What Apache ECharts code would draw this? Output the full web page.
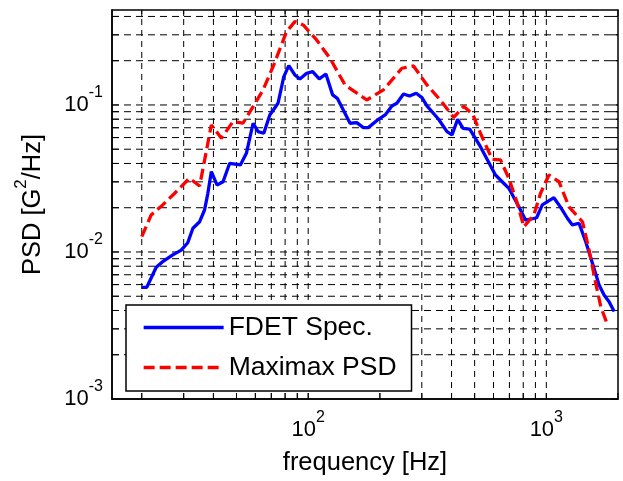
<!DOCTYPE html>
<html>
<head>
<meta charset="utf-8">
<script src="https://cdn.jsdelivr.net/npm/echarts@6/dist/echarts.min.js"></script>
<style>
html,body{margin:0;padding:0;background:#fff;}
#chart{width:623px;height:481px;}
</style>
</head>
<body>
<div id="chart"></div>
<script>
// ---- data ----
const blueName = 'FDET Spec.';
const redName = 'Maximax PSD';
const blueFreq = [20, 21, 23, 24.4, 27, 29.3, 31.2, 32.8, 35, 36.7, 37.9, 39.2, 41.4, 43.9, 46.8, 51.9, 55, 58.7, 61.6, 65.1, 69, 74.7, 79, 82.9, 87.9, 92.3, 98.5, 104.4, 111.3, 118.7, 126.7, 132.5, 149.9, 159.9, 170.5, 178.9, 197.2, 210.5, 224.6, 235.7, 251.3, 266.3, 284.2, 300.4, 315.3, 352.8, 382.8, 401.9, 424.2, 447.1, 476.8, 528.8, 611.5, 652.7, 696, 766.8, 818.1, 858.7, 910.4, 962, 1076, 1149, 1226, 1287, 1372, 1464, 1562, 1666, 1748, 1835, 1927];
const blueVal = [0.00575, 0.00575, 0.00787, 0.00855, 0.00955, 0.0103, 0.01156, 0.01449, 0.01606, 0.0193, 0.02506, 0.0352, 0.02858, 0.03006, 0.0401, 0.0391, 0.0469, 0.0751, 0.0658, 0.0642, 0.0855, 0.1027, 0.1558, 0.1851, 0.160, 0.1503, 0.1643, 0.1684, 0.1503, 0.1625, 0.117, 0.111, 0.0751, 0.0758, 0.0701, 0.0701, 0.0799, 0.0855, 0.0985, 0.1027, 0.1188, 0.1151, 0.1201, 0.1121, 0.0985, 0.0799, 0.0658, 0.0625, 0.0799, 0.0694, 0.0684, 0.052, 0.0334, 0.03006, 0.0271, 0.0203, 0.0165, 0.0167, 0.0171, 0.0209, 0.0234, 0.0201, 0.01696, 0.01527, 0.01568, 0.01175, 0.00838, 0.00596, 0.0051, 0.00459, 0.00393];
const redFreq = [20, 21.9, 24.5, 27.5, 31.7, 35, 39.2, 43.2, 48.3, 53.2, 58.7, 64.6, 71.2, 81.1, 87.9, 95.3, 108.5, 123.4, 142.8, 176.2, 207, 247.4, 276.9, 315.3, 358.7, 408.1, 449.7, 491.6, 528.8, 592.1, 642, 696, 754.8, 804.7, 886.5, 946, 1026, 1130, 1245, 1418, 1512, 1613, 1693, 1807];
const redVal = [0.0127, 0.01785, 0.0209, 0.0251, 0.0317, 0.0281, 0.0731, 0.0594, 0.077, 0.0751, 0.0974, 0.1265, 0.1822, 0.315, 0.3687, 0.35, 0.2768, 0.2078, 0.1368, 0.1081, 0.1265, 0.1777, 0.1842, 0.1368, 0.1081, 0.0822, 0.098, 0.0862, 0.0642, 0.0427, 0.0423, 0.0317, 0.0215, 0.01486, 0.01785, 0.0251, 0.0334, 0.03006, 0.0203, 0.01606, 0.0103, 0.00612, 0.00425, 0.00319];
const xGridVals = [20, 30, 40, 50, 60, 70, 80, 90, 100, 200, 300, 400, 500, 600, 700, 800, 900, 1000, 2000];
const yGridVals = [0.001, 0.002, 0.003, 0.004, 0.005, 0.006, 0.007, 0.008, 0.009, 0.01, 0.02, 0.03, 0.04, 0.05, 0.06, 0.07, 0.08, 0.09, 0.1, 0.2, 0.3, 0.4];
const xMin = 15, xMax = 2000, yMin = 0.001, yMax = 0.4425;
const xTitle = 'frequency [Hz]';
const yTitle = '{a|PSD [G}{s|2}{a|/Hz]}';

const FONT = "'Liberation Sans', Arial, Helvetica, sans-serif";

function pow10Label(v) {
  const e = Math.log10(v);
  const r = Math.round(e);
  if (Math.abs(e - r) > 0.01) return '';
  return '{b|10}{s|' + r + '}';
}

const supRich = {
  b: {fontSize: 22, lineHeight: 31, fontFamily: FONT, color: '#000', verticalAlign: 'bottom'},
  s: {fontSize: 16, lineHeight: 16, fontFamily: FONT, color: '#000', verticalAlign: 'top'}
};

const chart = echarts.init(document.getElementById('chart'), null, {renderer: 'canvas'});

const option = {
  animation: false,
  backgroundColor: '#fff',
  grid: {left: 112, right: 5, top: 10, bottom: 82, show: false},
  xAxis: {
    type: 'log', logBase: 10, min: xMin, max: xMax,
    name: xTitle, nameLocation: 'middle', nameGap: 51,
    nameTextStyle: {fontSize: 25.5, fontFamily: FONT, color: '#000'},
    axisLine: {show: true, onZero: false, lineStyle: {color: '#000', width: 1.5}},
    axisTick: {show: false},
    splitLine: {show: false},
    axisLabel: {margin: 11, formatter: pow10Label, color: '#000', rich: supRich}
  },
  yAxis: {
    type: 'log', logBase: 10, min: yMin, max: yMax,
    name: yTitle, nameLocation: 'middle', nameGap: 66, nameRotate: 90,
    nameTextStyle: {
      fontSize: 25.5, fontFamily: FONT, color: '#000',
      rich: {
        a: {fontSize: 25.5, lineHeight: 33, fontFamily: FONT, color: '#000', verticalAlign: 'bottom'},
        s: {fontSize: 17, lineHeight: 17, fontFamily: FONT, color: '#000', verticalAlign: 'top'}
      }
    },
    axisLine: {show: true, onZero: false, lineStyle: {color: '#000', width: 1.5}},
    axisTick: {show: false},
    splitLine: {show: false},
    axisLabel: {margin: 9, formatter: pow10Label, color: '#000', padding: [0, 0, 10, 0], rich: supRich}
  },
  legend: {
    data: [blueName, redName],
    orient: 'vertical', left: 126, top: 305,
    itemWidth: 80, itemHeight: 14, itemGap: 13,
    padding: [9, 15, 10, 16],
    backgroundColor: '#fff', borderColor: '#000', borderWidth: 1.5, borderRadius: 0,
    itemStyle: {opacity: 0, borderWidth: 0},
    lineStyle: {width: 3.3},
    textStyle: {fontSize: 26.5, fontFamily: FONT, color: '#000'}
  },
  series: [
    {
      type: 'custom', name: 'xgrid', silent: true, z: 1, clip: false,
      data: xGridVals.map(v => [v, yMin]),
      renderItem: function (params, api) {
        const cs = params.coordSys;
        const x = api.coord([api.value(0), yMin])[0];
        if (x < cs.x - 0.5 || x > cs.x + cs.width + 0.5) return null;
        const top = cs.y, bot = cs.y + cs.height;
        const kids = [];
        if (x < cs.x + cs.width - 1) {
          kids.push({type: 'line', shape: {x1: x, y1: bot, x2: x, y2: top},
            style: {stroke: '#000', lineWidth: 1, lineDash: [6, 5]}});
        }
        kids.push({type: 'line', shape: {x1: x, y1: bot, x2: x, y2: bot - 6}, style: {stroke: '#000', lineWidth: 1}});
        kids.push({type: 'line', shape: {x1: x, y1: top, x2: x, y2: top + 6}, style: {stroke: '#000', lineWidth: 1}});
        return {type: 'group', children: kids};
      }
    },
    {
      type: 'custom', name: 'ygrid', silent: true, z: 1, clip: false,
      data: yGridVals.map(v => [xMin, v]),
      renderItem: function (params, api) {
        const cs = params.coordSys;
        const y = api.coord([xMin, api.value(1)])[1];
        if (y < cs.y - 0.5 || y > cs.y + cs.height + 0.5) return null;
        const l = cs.x, r = cs.x + cs.width;
        const kids = [];
        if (y < cs.y + cs.height - 1) {
          kids.push({type: 'line', shape: {x1: l, y1: y, x2: r, y2: y},
            style: {stroke: '#000', lineWidth: 1, lineDash: [7, 5]}});
        }
        kids.push({type: 'line', shape: {x1: l, y1: y, x2: l + 7, y2: y}, style: {stroke: '#000', lineWidth: 1}});
        kids.push({type: 'line', shape: {x1: r, y1: y, x2: r - 7, y2: y}, style: {stroke: '#000', lineWidth: 1}});
        return {type: 'group', children: kids};
      }
    },
    {
      type: 'custom', name: 'box', silent: true, z: 3, clip: false,
      data: [[xMin, yMin]],
      renderItem: function (params, api) {
        const cs = params.coordSys;
        return {type: 'rect', shape: {x: cs.x, y: cs.y, width: cs.width, height: cs.height},
          style: {fill: null, stroke: '#000', lineWidth: 1.5}};
      }
    },
    {
      type: 'line', name: blueName, z: 5,
      data: blueFreq.map((f, i) => [f, blueVal[i]]),
      symbol: 'none', showSymbol: false,
      lineStyle: {color: '#0000ff', width: 3.3},
      itemStyle: {color: '#0000ff'}
    },
    {
      type: 'line', name: redName, z: 6,
      data: redFreq.map((f, i) => [f, redVal[i]]),
      symbol: 'none', showSymbol: false,
      lineStyle: {color: '#ff0000', width: 3.3, type: [11, 5]},
      itemStyle: {color: '#ff0000'}
    }
  ]
};
chart.setOption(option);
</script>
</body>
</html>
